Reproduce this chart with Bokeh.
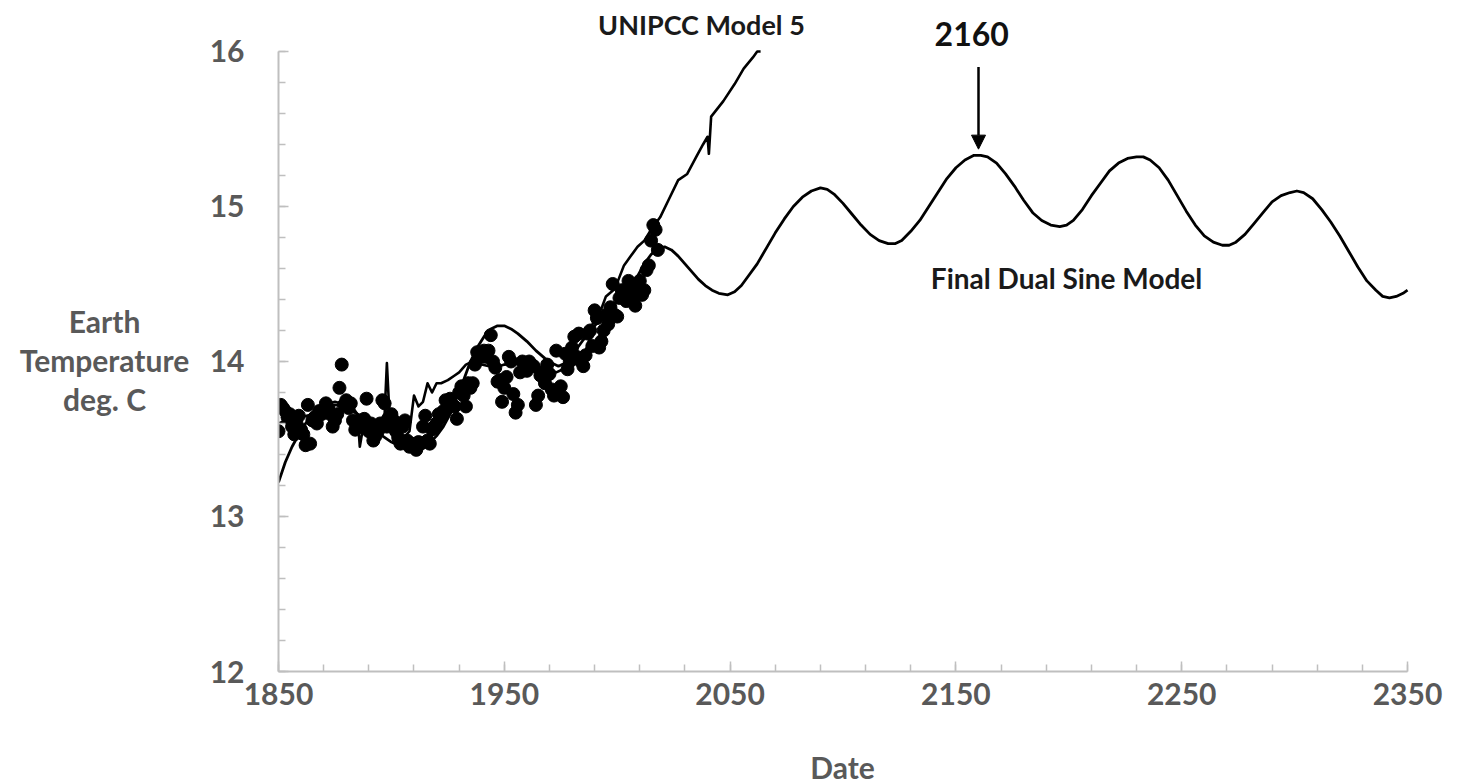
from bokeh.plotting import figure
from bokeh.layouts import row, column
from bokeh.models import Range1d, FixedTicker, Label, Arrow, NormalHead
from bokeh.core.properties import value
from bokeh.embed import file_html
from bokeh.resources import INLINE
import numpy as np

# ---------------- data ----------------
obs_temps = [
    13.55, 13.72, 13.70, 13.68, 13.64, 13.66, 13.58, 13.53, 13.60, 13.65,
    13.56, 13.53, 13.46, 13.72, 13.47, 13.62, 13.64, 13.60, 13.68, 13.66,
    13.67, 13.73, 13.70, 13.66, 13.58, 13.62, 13.66, 13.83, 13.98, 13.72,
    13.75, 13.70, 13.73, 13.62, 13.56, 13.60, 13.62, 13.58, 13.63, 13.76,
    13.55, 13.60, 13.49, 13.52, 13.55, 13.60, 13.75, 13.73, 13.58, 13.64,
    13.66, 13.62, 13.55, 13.51, 13.47, 13.58, 13.62, 13.49, 13.45, 13.47,
    13.46, 13.43, 13.48, 13.47, 13.58, 13.65, 13.49, 13.47, 13.56, 13.58,
    13.60, 13.66, 13.64, 13.68, 13.75, 13.70, 13.76, 13.72, 13.71, 13.63,
    13.80, 13.84, 13.78, 13.71, 13.86, 13.83, 13.86, 13.98, 14.06, 14.03,
    14.03, 14.07, 14.03, 14.07, 14.17, 14.00, 13.96, 13.87, 13.88, 13.74,
    13.83, 13.90, 14.03, 14.00, 13.79, 13.67, 13.72, 13.93, 14.00, 13.96,
    13.94, 14.00, 13.98, 13.97, 13.72, 13.78, 13.91, 13.93, 13.86, 13.98,
    13.92, 13.82, 13.78, 14.07, 13.81, 13.84, 13.77, 14.05, 13.95, 14.00,
    14.09, 14.16, 14.03, 14.18, 14.00, 13.97, 14.04, 14.18, 14.20, 14.10,
    14.33, 14.28, 14.09, 14.13, 14.20, 14.30, 14.24, 14.35, 14.50, 14.30,
    14.29, 14.41, 14.46, 14.45, 14.39, 14.52, 14.46, 14.41, 14.36, 14.47,
    14.52, 14.43, 14.46, 14.59, 14.62, 14.78, 14.88, 14.85, 14.72,
]
obs_years = list(range(1850, 1850 + len(obs_temps)))

ipcc_years = [1850, 1855, 1860, 1865, 1870, 1875, 1880, 1883, 1885, 1886,
              1888, 1890, 1893, 1895, 1897, 1898, 1899, 1900, 1902, 1905,
              1908, 1910, 1912, 1914, 1916, 1918, 1920, 1922, 1925, 1928,
              1930, 1933, 1936, 1940, 1946, 1950, 1956, 1960, 1963, 1966,
              1970, 1973, 1976, 1980, 1984, 1987, 1990, 1993, 1995, 1999,
              2003, 2006, 2009, 2012, 2015, 2019, 2023, 2027, 2031, 2035,
              2038, 2040, 2040.6, 2041.6, 2047, 2052, 2056, 2060, 2062, 2063.5]
ipcc_temps = [13.60, 13.63, 13.64, 13.66, 13.72, 13.74, 13.72, 13.70, 13.66, 13.45,
              13.62, 13.60, 13.58, 13.62, 13.66, 13.99, 13.70, 13.60, 13.55, 13.50,
              13.55, 13.78, 13.71, 13.74, 13.86, 13.80, 13.86, 13.86, 13.88, 13.91,
              13.93, 13.98, 14.00, 13.98, 13.96, 13.98, 13.99, 14.00, 13.96, 13.94,
              13.94, 13.93, 13.95, 14.02, 14.03, 14.10, 14.30, 14.34, 14.42, 14.47,
              14.62, 14.68, 14.74, 14.78, 14.85, 14.93, 15.05, 15.17, 15.21, 15.32,
              15.40, 15.45, 15.34, 15.58, 15.68, 15.79, 15.89, 15.96, 16.00, 16.00]

sine_years = [1850, 1853, 1856, 1859, 1862, 1865, 1868, 1871, 1875, 1879,
              1882, 1886, 1889, 1893, 1896, 1900, 1903, 1906, 1910, 1913,
              1916, 1920, 1923, 1926, 1929, 1932, 1935, 1938, 1941, 1944,
              1947, 1950, 1953, 1956, 1960, 1964, 1968, 1971, 1974, 1977,
              1980, 1985, 1990, 1995, 2000, 2005, 2009, 2012, 2015, 2018,
              2021, 2024, 2027, 2030, 2033, 2036, 2039, 2042, 2045, 2049,
              2052, 2055, 2058, 2062, 2066, 2070, 2074, 2078, 2082, 2086,
              2090, 2093, 2096, 2100, 2104, 2108, 2112, 2116, 2120, 2123,
              2126, 2130, 2134, 2138, 2142, 2146, 2150, 2154, 2158, 2161,
              2164, 2168, 2172, 2176, 2180, 2184, 2188, 2192, 2196, 2199,
              2202, 2206, 2210, 2214, 2218, 2222, 2226, 2230, 2233, 2236,
              2240, 2244, 2248, 2252, 2256, 2260, 2264, 2268, 2271, 2274,
              2278, 2282, 2286, 2290, 2294, 2298, 2301, 2304, 2308, 2312,
              2316, 2320, 2324, 2328, 2332, 2336, 2339, 2342, 2345, 2348,
              2350]
sine_temps = [13.22, 13.35, 13.45, 13.53, 13.60, 13.65, 13.69, 13.71, 13.72, 13.71,
              13.69, 13.65, 13.61, 13.56, 13.52, 13.48, 13.46, 13.44, 13.43, 13.44,
              13.46, 13.52, 13.58, 13.66, 13.77, 13.88, 14.00, 14.09, 14.16, 14.21,
              14.23, 14.23, 14.21, 14.18, 14.13, 14.07, 14.02, 13.99, 13.97, 13.99,
              14.04, 14.14, 14.23, 14.31, 14.39, 14.47, 14.55, 14.63, 14.69, 14.73,
              14.74, 14.72, 14.68, 14.63, 14.58, 14.53, 14.49, 14.46, 14.44, 14.43,
              14.45, 14.49, 14.55, 14.63, 14.73, 14.83, 14.92, 15.00, 15.06, 15.10,
              15.12, 15.11, 15.08, 15.02, 14.95, 14.88, 14.82, 14.78, 14.76, 14.76,
              14.78, 14.84, 14.91, 15.00, 15.09, 15.18, 15.25, 15.30, 15.33, 15.33,
              15.32, 15.28, 15.21, 15.13, 15.04, 14.96, 14.91, 14.88, 14.87, 14.88,
              14.91, 14.98, 15.07, 15.15, 15.23, 15.28, 15.31, 15.32, 15.32, 15.30,
              15.25, 15.17, 15.07, 14.97, 14.88, 14.81, 14.77, 14.75, 14.75, 14.77,
              14.82, 14.89, 14.96, 15.03, 15.07, 15.09, 15.10, 15.09, 15.05, 14.98,
              14.90, 14.81, 14.71, 14.61, 14.52, 14.46, 14.42, 14.41, 14.42, 14.44,
              14.46]

x_tick_values = [1850, 1950, 2050, 2150, 2250, 2350]
y_tick_values = [12, 13, 14, 15, 16]
y_title_lines = ["Earth", "Temperature", "deg. C"]
x_title = ["Date"]

FONT = "Lato"
GREY = "#595959"
AXIS = "#bfbfbf"
TOP_H = 735

# ---------- left strip holding the horizontal y-axis title ----------
left = figure(width=200, height=TOP_H, output_backend="svg", toolbar_location=None,
              x_range=Range1d(0, 200), y_range=Range1d(671, 8),
              x_axis_type=None, y_axis_type=None,
              min_border_left=0, min_border_right=0,
              min_border_top=8, min_border_bottom=TOP_H - 671)
left.outline_line_color = None
left.grid.visible = False
left.text(x=[104, 104, 104], y=[320, 359, 398], text=y_title_lines,
          text_align="center", text_baseline="alphabetic",
          text_font=value(FONT), text_font_style="bold",
          text_font_size="30px", text_color=GREY)

# ---------- main chart ----------
p = figure(width=1255, height=TOP_H, output_backend="svg", toolbar_location=None,
           x_range=Range1d(1850, 2364.6), y_range=Range1d(12, 16.2774),
           min_border_left=78, min_border_right=15, min_border_top=8,
           min_border_bottom=TOP_H - 671)
p.outline_line_color = None
p.grid.visible = False
p.background_fill_color = "white"
p.border_fill_color = "white"

p.line(sine_years, sine_temps, line_color="black", line_width=2.8, line_join="round")
p.line(ipcc_years, ipcc_temps, line_color="black", line_width=2.6, line_join="round")
p.scatter(obs_years, obs_temps, size=13, fill_color="black", line_color="black")

for ax in (p.xaxis[0], p.yaxis[0]):
    ax.axis_line_color = AXIS
    ax.axis_line_width = 2
    ax.major_tick_line_color = AXIS
    ax.minor_tick_line_color = AXIS
    ax.major_tick_line_width = 1.5
    ax.minor_tick_line_width = 1.5
    ax.major_tick_in = 10
    ax.major_tick_out = 0
    ax.minor_tick_in = 7
    ax.minor_tick_out = 0
    ax.major_label_text_font = FONT
    ax.major_label_text_font_style = "bold"
    ax.major_label_text_font_size = "30px"
    ax.major_label_text_color = GREY

p.xaxis.ticker = FixedTicker(ticks=x_tick_values,
                             minor_ticks=list(np.arange(1850, 2351, 20)))
p.yaxis.ticker = FixedTicker(ticks=y_tick_values,
                             minor_ticks=list(np.round(np.arange(12, 16.01, 0.2), 2)))
p.xaxis.bounds = (1850, 2350)
p.yaxis.bounds = (12, 16)
p.xaxis.major_label_standoff = 11
p.yaxis.major_label_standoff = 34

def lab(x, y, text, size, color):
    p.add_layout(Label(x=x, y=y, text=text, text_align="center",
                       text_baseline="middle", text_font=FONT,
                       text_font_size=size, text_color=color,
                       text_font_style="bold"))

lab(2037.3, 16.174, "UNIPCC Model 5", "27px", "#1a1a1a")
lab(2157.0, 16.113, "2160", "32px", "#111111")
lab(2199.0, 14.54, "Final Dual Sine Model", "28px", "#1a1a1a")

p.add_layout(Arrow(end=NormalHead(size=14, fill_color="black", line_color="black"),
                   x_start=2160, y_start=15.9, x_end=2160, y_end=15.37,
                   line_color="black", line_width=2.5))

# ---------- bottom strip holding the x-axis title ----------
bottom = figure(width=1455, height=48, output_backend="svg", toolbar_location=None,
                x_range=Range1d(0, 1455), y_range=Range1d(48, 0),
                x_axis_type=None, y_axis_type=None,
                min_border_left=0, min_border_right=0,
                min_border_top=0, min_border_bottom=0)
bottom.outline_line_color = None
bottom.grid.visible = False
bottom.text(x=[842], y=[31], text=x_title, text_align="center",
            text_baseline="alphabetic", text_font=value(FONT),
            text_font_style="bold", text_font_size="30px", text_color=GREY)

open("out.html", "w").write(file_html(column(row(left, p), bottom), INLINE))
